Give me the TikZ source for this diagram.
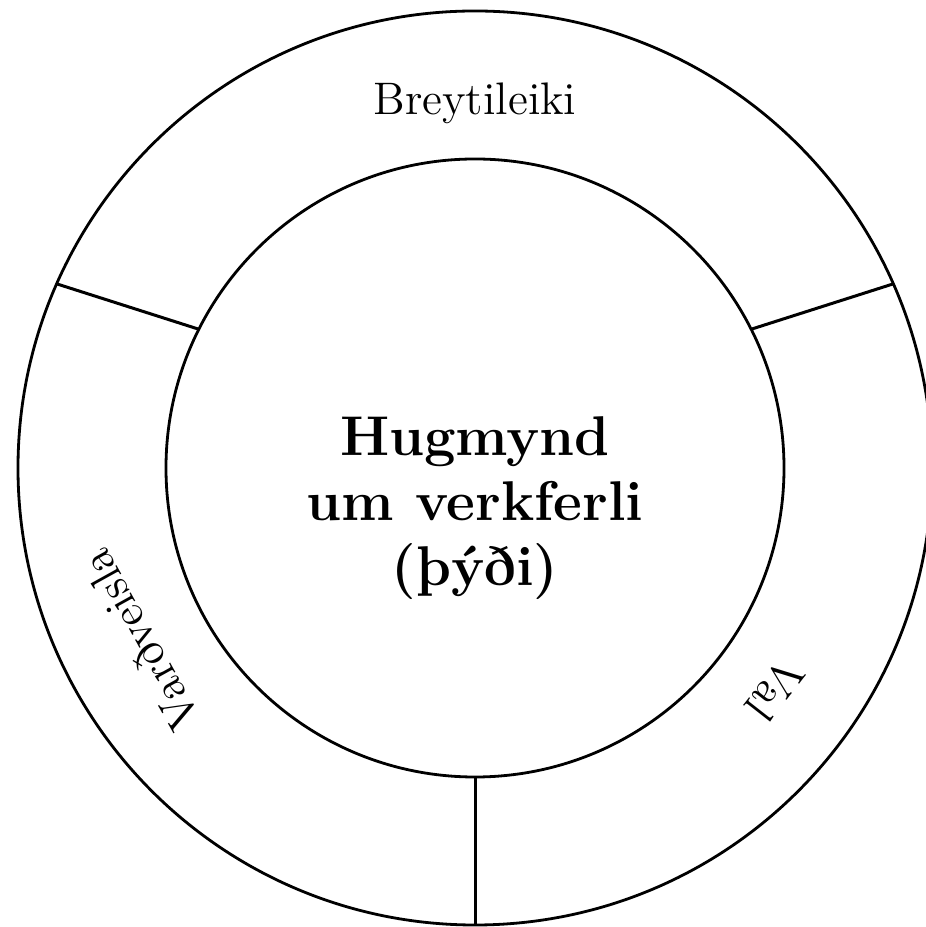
\documentclass[tikz,border=0pt]{standalone}
\begin{document}
\begin{tikzpicture}[x=0.25pt,y=0.25pt,
  ring/.style={draw=black,line width=0.7pt},
  divider/.style={draw=black,line width=0.75pt},
  sidelabel/.style={font=\fontsize{11.4}{13.7}\selectfont,inner sep=0pt},
  centerlabel/.style={font=\fontsize{14}{16.25}\selectfont\bfseries,align=center,inner sep=0pt}]
\useasboundingbox (-475,-459) rectangle (450,468);
\coordinate (c) at (0,0);
\draw[ring] (c) circle[radius=457];
\draw[ring] (c) circle[radius=309];
% dividers
\coordinate (li) at (153.35:310);
\coordinate (lo) at (156.24:457);
\coordinate (ri) at (26.65:310);
\coordinate (ro) at (23.76:457);
\coordinate (bi) at (270:309);
\coordinate (bo) at (270:457);
\draw[divider] (li) -- (lo);
\draw[divider] (ri) -- (ro);
\draw[divider] (bi) -- (bo);
% labels
\node[sidelabel] (breyt) at (0,365) {Breytileiki};
\node[sidelabel,rotate=232] (val) at (300,-222) {Val};
\node[sidelabel,rotate=119] (vard) at (-335,-172) {Varðveisla};
\node[centerlabel] (hug) at (0,-40) {Hugmynd\\um verkferli\\(þýði)};
\end{tikzpicture}
\end{document}
